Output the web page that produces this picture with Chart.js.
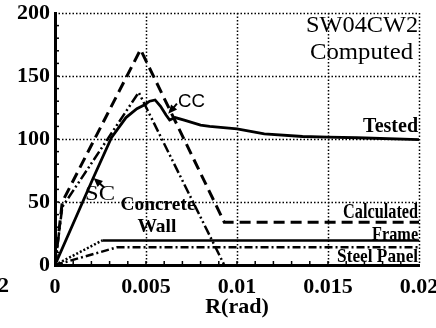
<!DOCTYPE html>
<html>
<head>
<meta charset="utf-8">
<script src="https://cdn.jsdelivr.net/npm/chart.js@4/dist/chart.umd.min.js"></script>
<style>
  html, body { margin: 0; padding: 0; background: #fff; }
  #wrap { width: 436px; height: 328px; }
</style>
</head>
<body>
<div id="wrap"><canvas id="c" width="436" height="328"></canvas></div>
<script>
// Shear force V (kN) against drift angle R (rad), specimen SW04CW2
const xTickLabels = ['0', '0.005', '0.01', '0.015', '0.02'];
const yTickLabels = ['0', '50', '100', '150', '200'];

const testedR = [0, 0.0021, 0.0031, 0.0035, 0.0039, 0.0045, 0.0049, 0.0052, 0.0055, 0.0058, 0.0061, 0.0063, 0.0066, 0.0071, 0.0080, 0.0085, 0.0100, 0.0115, 0.0136, 0.0150, 0.0166, 0.0200];
const testedV = [0, 69, 101, 109, 117, 124, 127, 130, 131, 126, 119, 115, 117, 115, 111, 110, 108, 104, 102, 101.5, 101, 99.5];

const calcR = [0, 0.0004, 0.0047, 0.0093, 0.0200];
const calcV = [0, 50, 171, 34, 34];

const wallR = [0, 0.0004, 0.0046, 0.0093];
const wallV = [0, 46, 137, 0];

const frameR = [0, 0.0026, 0.0200];
const frameV = [0, 19.5, 19.5];

const panelR = [0, 0.0034, 0.0200];
const panelV = [0, 14, 14];

const toPoints = (xs, ys) => xs.map((x, i) => ({ x: x, y: ys[i] }));

const SERIF = "'Liberation Serif', 'Times New Roman', serif";
const SANS = "'Liberation Sans', Arial, sans-serif";

// Text placed inside the plot, anchored in data units
const notes = [
  { text: 'SW04CW2',    x: 0.01995, y: 185,   align: 'right',  font: '24px ' + SERIF,        width: 112 },
  { text: 'Computed',   x: 0.01967, y: 163.5, align: 'right',  font: '24px ' + SERIF,        width: 103 },
  { text: 'Tested',     x: 0.01995, y: 105.6, align: 'right',  font: 'bold 20px ' + SERIF,   width: 55 },
  { text: 'CC',         x: 0.00676, y: 125.4, align: 'left',   font: '19px ' + SANS,         width: 27 },
  { text: 'SC',         x: 0.00165, y: 51.6,  align: 'left',   font: '20px ' + SERIF,        width: 30 },
  { text: 'Concrete',   x: 0.00566, y: 43.7,  align: 'center', font: 'bold 19px ' + SERIF,   width: 75 },
  { text: 'Wall',       x: 0.0056,  y: 26.2,  align: 'center', font: 'bold 19px ' + SERIF,   width: 39 },
  { text: 'Calculated', x: 0.01995, y: 37.3,  align: 'right',  font: 'bold 20px ' + SERIF,   width: 75 },
  { text: 'Frame',      x: 0.01995, y: 19.8,  align: 'right',  font: 'bold 19px ' + SERIF,   width: 46 },
  { text: 'Steel Panel',x: 0.01995, y: 2.4,   align: 'right',  font: 'bold 19px ' + SERIF,   width: 81 }
];

// Arrows: from tail to tip, in data units
const arrows = [
  { from: [0.00270, 61.5], to: [0.00212, 69] },
  { from: [0.00670, 128],  to: [0.00622, 120] }
];

function drawNote(ctx, n, px, py) {
  ctx.save();
  ctx.font = n.font;
  const w = ctx.measureText(n.text).width;
  const sx = n.width / w;
  const left = n.align === 'right' ? px - n.width : (n.align === 'center' ? px - n.width / 2 : px);
  ctx.translate(left, py);
  ctx.scale(sx, 1);
  ctx.fillStyle = '#000';
  ctx.textAlign = 'left';
  ctx.textBaseline = 'alphabetic';
  ctx.fillText(n.text, 0, 0);
  ctx.restore();
}

function drawArrow(ctx, x0, y0, x1, y1) {
  const ang = Math.atan2(y1 - y0, x1 - x0);
  const len = 9, half = 4;
  ctx.save();
  ctx.strokeStyle = '#000';
  ctx.fillStyle = '#000';
  ctx.lineWidth = 2;
  ctx.beginPath();
  ctx.moveTo(x0, y0);
  ctx.lineTo(x1 - Math.cos(ang) * len * 0.8, y1 - Math.sin(ang) * len * 0.8);
  ctx.stroke();
  ctx.beginPath();
  ctx.moveTo(x1, y1);
  ctx.lineTo(x1 - Math.cos(ang) * len - Math.sin(ang) * half, y1 - Math.sin(ang) * len + Math.cos(ang) * half);
  ctx.lineTo(x1 - Math.cos(ang) * len + Math.sin(ang) * half, y1 - Math.sin(ang) * len - Math.cos(ang) * half);
  ctx.closePath();
  ctx.fill();
  ctx.restore();
}

// Dotted major grid (incl. top and right frame) and inward minor ticks
const gridPlugin = {
  id: 'dottedGrid',
  beforeDatasetsDraw(chart) {
    const { ctx, chartArea: a, scales: { x, y } } = chart;
    ctx.save();
    ctx.strokeStyle = '#000';
    ctx.lineWidth = 1.5;
    ctx.setLineDash([1.5, 2]);
    for (let k = 1; k <= 4; k++) {
      const px = Math.round(x.getPixelForValue(k * 0.005)) + 0.5;
      ctx.beginPath(); ctx.moveTo(px, a.top); ctx.lineTo(px, a.bottom); ctx.stroke();
    }
    for (let k = 1; k <= 4; k++) {
      const py = Math.round(y.getPixelForValue(k * 50)) + 0.5;
      ctx.beginPath(); ctx.moveTo(a.left, py); ctx.lineTo(a.right, py); ctx.stroke();
    }
    ctx.setLineDash([]);
    ctx.lineWidth = 1.5;
    for (let k = 1; k < 20; k++) {
      const px = x.getPixelForValue(k * 0.001);
      ctx.beginPath(); ctx.moveTo(px, a.bottom); ctx.lineTo(px, a.bottom - 4); ctx.stroke();
    }
    for (let k = 1; k < 20; k++) {
      const py = y.getPixelForValue(k * 10);
      ctx.beginPath(); ctx.moveTo(a.left, py); ctx.lineTo(a.left + 4, py); ctx.stroke();
    }
    ctx.restore();
  },
  afterDatasetsDraw(chart) {
    const { ctx, scales: { x, y } } = chart;
    notes.forEach(n => drawNote(ctx, n, x.getPixelForValue(n.x), y.getPixelForValue(n.y)));
    arrows.forEach(ar => drawArrow(ctx,
      x.getPixelForValue(ar.from[0]), y.getPixelForValue(ar.from[1]),
      x.getPixelForValue(ar.to[0]), y.getPixelForValue(ar.to[1])));
    // tail of the neighbouring panel's last tick label at the left edge
    ctx.save();
    ctx.font = 'bold 22px ' + SERIF;
    ctx.fillStyle = '#000';
    ctx.textAlign = 'right';
    ctx.textBaseline = 'alphabetic';
    ctx.fillText('0.02', 9, 292);
    ctx.restore();
  }
};

const lineStyle = (dash, width) => ({
  borderColor: '#000', borderWidth: width, borderDash: dash,
  pointRadius: 0, showLine: true, fill: false, tension: 0
});

new Chart(document.getElementById('c'), {
  type: 'scatter',
  data: {
    datasets: [
      Object.assign({ label: 'Tested', data: toPoints(testedR, testedV) }, lineStyle([], 2.8)),
      Object.assign({ label: 'Calculated', data: toPoints(calcR, calcV) }, lineStyle([11, 6], 3)),
      Object.assign({ label: 'Concrete Wall', data: toPoints(wallR, wallV) }, lineStyle([10, 3, 2, 3, 2, 3], 2.5)),
      Object.assign({ label: 'Frame', data: toPoints(frameR, frameV),
        segment: { borderDash: c => (c.p0DataIndex === 0 ? [2, 2] : []) } }, lineStyle([], 2.5)),
      Object.assign({ label: 'Steel Panel', data: toPoints(panelR, panelV) }, lineStyle([8, 3, 2, 3], 2.5))
    ]
  },
  options: {
    responsive: false,
    animation: false,
    devicePixelRatio: 1,
    layout: { padding: { top: 13, right: 17, left: 0, bottom: 0 } },
    plugins: { legend: { display: false }, tooltip: { enabled: false } },
    scales: {
      x: {
        type: 'linear', min: 0, max: 0.02,
        afterFit: s => { s.height = 63; s.paddingLeft = 0; s.paddingRight = 0; },
        grid: { display: false, drawTicks: false },
        border: { display: true, color: '#000', width: 3 },
        ticks: {
          stepSize: 0.005, autoSkip: false, maxRotation: 0, padding: 9, color: '#000',
          font: { family: SERIF, size: 22, weight: 'bold' },
          callback: v => xTickLabels[Math.round(v / 0.005)]
        },
        title: {
          display: true, text: 'R(rad)', color: '#000',
          font: { family: SERIF, size: 22, weight: 'bold' },
          padding: { top: 0, bottom: 7 }
        }
      },
      y: {
        type: 'linear', min: 0, max: 200,
        afterFit: s => { s.width = 55; s.paddingTop = 0; s.paddingBottom = 0; },
        grid: { display: false, drawTicks: false },
        border: { display: true, color: '#000', width: 3 },
        ticks: {
          stepSize: 50, padding: 5, color: '#000',
          font: { family: SERIF, size: 22, weight: 'bold' },
          callback: v => yTickLabels[Math.round(v / 50)]
        }
      }
    }
  },
  plugins: [gridPlugin]
});
</script>
</body>
</html>
